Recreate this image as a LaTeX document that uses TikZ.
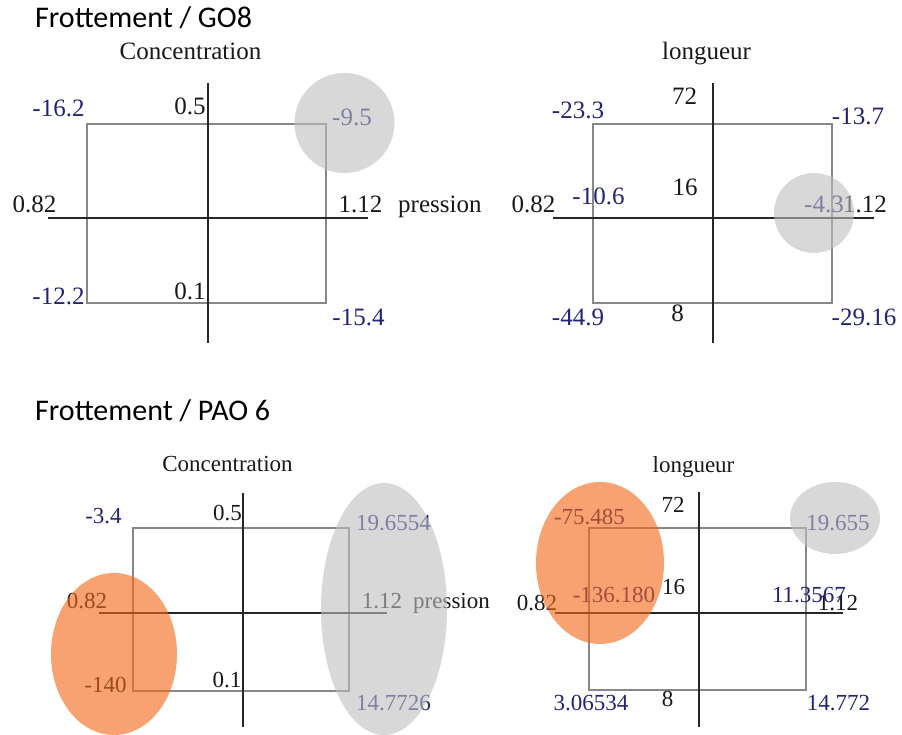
\documentclass[tikz,border=0pt]{standalone}
\usepackage{fontspec}
\setmainfont{Liberation Serif}
\newfontfamily\titlefont{Carlito}
\definecolor{navy}{RGB}{35,35,120}
\definecolor{ink}{RGB}{25,25,25}
\definecolor{boxgray}{RGB}{135,135,135}
\definecolor{blobgray}{RGB}{190,190,190}
\definecolor{bloborange}{RGB}{243,105,25}
\tikzset{
  big/.style={font=\fontsize{25}{30}\selectfont, inner sep=0pt, anchor=base},
  small/.style={font=\fontsize{23}{28}\selectfont, inner sep=0pt, anchor=base},
  blue/.style={text=navy},
  blk/.style={text=ink},
  ttl/.style={font=\titlefont\fontsize{30}{35}\selectfont, inner sep=0pt, anchor=base west, text=black},
  frame/.style={draw=boxgray, line width=1.3pt},
  axis/.style={draw=black!85, line width=1.6pt},
  gblob/.style={fill=blobgray, fill opacity=0.6, draw=none},
  oblob/.style={fill=bloborange, fill opacity=0.62, draw=none},
}
\begin{document}
\begin{tikzpicture}[x=1pt,y=-1pt]
\useasboundingbox[fill=white] (0,0) rectangle (902,735);

% ===== Top-left: GO8 concentration =====
\node[ttl] (t1) at (35,28) {Frottement / GO8};
\draw[frame] (87,124) rectangle (326,303);
\coordinate (a1l) at (48,218); \coordinate (a1r) at (368,218);
\coordinate (a1t) at (208,83); \coordinate (a1b) at (208,343);
\draw[axis] (a1l) -- (a1r);
\draw[axis] (a1t) -- (a1b);
\node[big,blk] (c1) at (190.5,60) {Concentration};
\node[big,blue] (n1a) at (58.5,117) {-16.2};
\node[big,blk] (n1b) at (190,115) {0.5};
\node[big,blue] (n1c) at (352,126) {-9.5};
\node[big,blk] (n1d) at (34.5,213) {0.82};
\node[big,blk] (n1e) at (360.5,213) {1.12};
\node[big,blk,anchor=base west] (p1) at (398,213) {pression};
\node[big,blue] (n1f) at (58.5,305) {-12.2};
\node[big,blk] (n1g) at (190,300) {0.1};
\node[big,blue] (n1h) at (358.5,325) {-15.4};
\fill[gblob] (344.5,123) circle (50);

% ===== Top-right: GO8 longueur =====
\draw[frame] (593,124) rectangle (832,303);
\coordinate (a2l) at (553,218); \coordinate (a2r) at (874,218);
\coordinate (a2t) at (713,83); \coordinate (a2b) at (713,343);
\draw[axis] (a2l) -- (a2r);
\draw[axis] (a2t) -- (a2b);
\node[big,blk] (l2) at (706.5,60) {longueur};
\node[big,blk] (n2a) at (684.5,105) {72};
\node[big,blue] (n2b) at (578,119) {-23.3};
\node[big,blue] (n2c) at (858,125) {-13.7};
\node[big,blk] (n2d) at (685,196) {16};
\node[big,blue] (n2e) at (598.5,205) {-10.6};
\node[big,blk] (n2f) at (533.5,213) {0.82};
\node[big,blue,anchor=base west] (n2g) at (804,213) {-4.3};
\node[big,blk,anchor=base west] (n2h) at (843,213) {1.12};
\node[big,blue] (n2i) at (578,325) {-44.9};
\node[big,blk] (n2j) at (677.5,321) {8};
\node[big,blue] (n2k) at (864,325) {-29.16};
\fill[gblob] (814,213) circle (40);

% ===== Bottom-left: PAO 6 concentration =====
\node[ttl] (t2) at (35,420) {Frottement / PAO 6};
\draw[frame] (133,528) rectangle (349,691);
\coordinate (a3l) at (99,613); \coordinate (a3r) at (387,613);
\coordinate (a3t) at (243,493); \coordinate (a3b) at (243,727);
\draw[axis] (a3l) -- (a3r);
\draw[axis] (a3t) -- (a3b);
\node[small,blk] (c3) at (227.5,471) {Concentration};
\node[small,blue] (n3a) at (103.5,523) {-3.4};
\node[small,blk] (n3b) at (227.5,520) {0.5};
\node[small,blue] (n3c) at (393.5,530) {19.6554};
\node[small,blk] (n3d) at (87,608) {0.82};
\node[small,blk] (n3e) at (382,608) {1.12};
\node[small,blk,anchor=base west] (p3) at (413,608) {pression};
\node[small,blk] (n3f) at (105.5,692) {-140};
\node[small,blk] (n3g) at (227,687) {0.1};
\node[small,blue] (n3h) at (393.5,710) {14.7726};
\fill[oblob] (114,654) ellipse [x radius=63, y radius=81];
\fill[gblob] (384,609) ellipse [x radius=63, y radius=126];

% ===== Bottom-right: PAO 6 longueur =====
\draw[frame] (589,528) rectangle (806,690);
\coordinate (a4l) at (555,613); \coordinate (a4r) at (843,613);
\coordinate (a4t) at (699,492); \coordinate (a4b) at (699,727);
\draw[axis] (a4l) -- (a4r);
\draw[axis] (a4t) -- (a4b);
\node[small,blk] (l4) at (693.5,472) {longueur};
\node[small,blk] (n4a) at (673,512) {72};
\node[small,blue] (n4b) at (589.5,524) {-75.485};
\node[small,blue] (n4c) at (838,530) {19.655};
\node[small,blue] (n4d) at (614,602) {-136.180};
\node[small,blk] (n4e) at (673.5,594) {16};
\node[small,blk] (n4f) at (537,610) {0.82};
\node[small,blk] (n4h) at (838,610) {1.12};
\node[small,blue] (n4g) at (809,602) {11.3567};
\node[small,blue] (n4i) at (591,710) {3.06534};
\node[small,blk] (n4j) at (667.5,706) {8};
\node[small,blue] (n4k) at (838.5,710) {14.772};
\fill[gblob] (835,518) ellipse [x radius=45, y radius=36];
\fill[oblob] (600,563) ellipse [x radius=64, y radius=81];
\end{tikzpicture}
\end{document}
